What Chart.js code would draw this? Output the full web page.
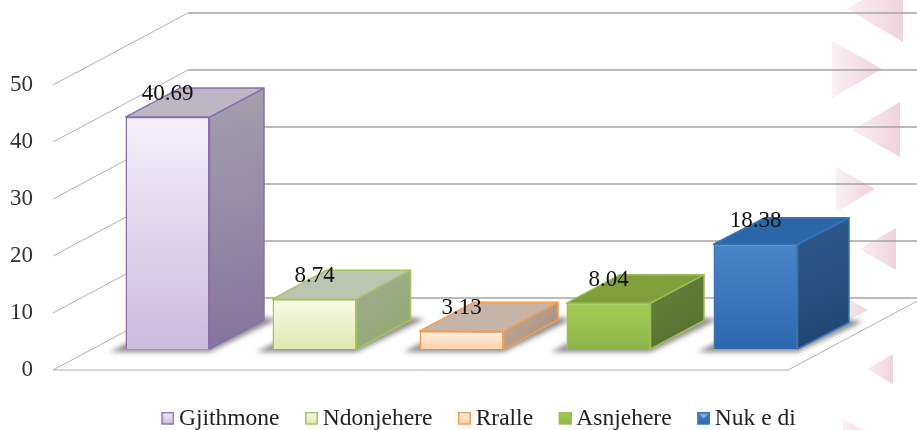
<!DOCTYPE html>
<html>
<head>
<meta charset="utf-8">
<script src="https://cdn.jsdelivr.net/npm/chart.js@4"></script>
<style>
  body { margin: 0; background: #fff; }
  canvas { display: block; }
</style>
</head>
<body>
<canvas id="plot" width="917" height="430"></canvas>
<script>
const categories = ['Gjithmone', 'Ndonjehere', 'Rralle', 'Asnjehere', 'Nuk e di'];
const values = [40.69, 8.74, 3.13, 8.04, 18.38];
const valueLabels = ['40.69', '8.74', '3.13', '8.04', '18.38'];
const tickLabels = [0, 10, 20, 30, 40, 50];

// colours per bar: front top/bottom, side top/bottom, top face, edge
const frontTop = ['#f4eff9', '#f7fbea', '#fff2e6', '#a6ce53', '#4a85c6'];
const frontBottom = ['#cbbbdc', '#deE8ae', '#fdcfa6', '#8cb34a', '#2d68ad'];
const sideTop = ['#a5a0ad', '#a3ab95', '#bdaa9b', '#65833b', '#2e5c8f'];
const sideBottom = ['#84739a', '#8fa96a', '#a88e7c', '#546c2e', '#1e446f'];
const topFace = ['#bdb7c3', '#bcc5b2', '#c4b5a8', '#809e3c', '#2a67a8'];
const edge = ['#8a6fb0', '#a3c45c', '#f79c4f', '#9dbd58', '#3a74b5'];

// wall and bar depth in pixels, the bars get shallower to the right
const wallInset = 41;
const backX = 135, backY = -72;
const barDepthX = [54.5, 54, 54.5, 53.5, 51.5];
const barDepthY = [-29, -29, -29, -28.5, -26.5];
const floorRight = 788;

// slide background triangles
const triangles = [
  [[847, 9], [903, -24], [903, 42]],
  [[832, 41], [882, 69], [832, 98]],
  [[852, 130], [900, 102], [900, 157]],
  [[836, 167], [875, 189], [836, 212]],
  [[859, 249], [896, 228], [896, 270]],
  [[838, 293], [868, 310], [838, 326]],
  [[867, 369], [893, 354], [893, 384]],
  [[843, 419], [875, 437], [843, 455]]
];

function poly(ctx, pts) {
  ctx.beginPath();
  pts.forEach((p, i) => i ? ctx.lineTo(p[0], p[1]) : ctx.moveTo(p[0], p[1]));
  ctx.closePath();
}

function makeSwatch(i) {
  const c = document.createElement('canvas');
  c.width = 15; c.height = 15;
  const g = c.getContext('2d');
  const grad = g.createLinearGradient(0, 0, 0, 13);
  grad.addColorStop(0, frontTop[i]);
  grad.addColorStop(1, frontBottom[i]);
  g.fillStyle = grad;
  g.fillRect(2, 0, 13, 13);
  if (i === 4) {
    g.fillStyle = '#86aed9';
    poly(g, [[4, 2], [13, 2], [8.5, 6.5]]);
    g.fill();
  }
  g.strokeStyle = edge[i];
  g.lineWidth = 1.5;
  g.strokeRect(2.75, 0.75, 11.5, 11.5);
  return c;
}

const scene3d = {
  id: 'scene3d',
  beforeLayout(chart) {
    const lg = chart.legend;
    if (!lg._fitWrapped) {
      const fit = lg.fit;
      lg.fit = function () { fit.call(this); this.height = 60; };
      lg._fitWrapped = true;
    }
  },
  afterLayout(chart) {
    const lg = chart.legend;
    lg.left += 66.5; lg.right += 66.5;
    lg.top += 7; lg.bottom += 7;
  },
  beforeDraw(chart) {
    const ctx = chart.ctx;
    ctx.save();
    triangles.forEach(t => {
      const xs = t.map(p => p[0]);
      const grad = ctx.createLinearGradient(Math.min(...xs), 0, Math.max(...xs), 0);
      grad.addColorStop(0, '#faf0f3');
      grad.addColorStop(1, '#efd3dc');
      ctx.fillStyle = grad;
      poly(ctx, t);
      ctx.fill();
    });
    ctx.restore();
  },
  beforeDatasetsDraw(chart) {
    const ctx = chart.ctx;
    const yAxis = chart.scales.y;
    const wallX = chart.chartArea.left - wallInset;
    ctx.save();
    tickLabels.forEach(v => {
      const py = yAxis.getPixelForValue(v);
      ctx.strokeStyle = '#b0b0b0';
      ctx.lineWidth = 1;
      ctx.beginPath();
      ctx.moveTo(wallX, py);
      ctx.lineTo(wallX + backX, py + backY);
      ctx.stroke();
      ctx.strokeStyle = '#a4a4a4';
      ctx.lineWidth = 1.6;
      ctx.beginPath();
      ctx.moveTo(wallX + backX, py + backY);
      ctx.lineTo(chart.width, py + backY);
      ctx.stroke();
    });
    // floor edge
    const y0 = yAxis.getPixelForValue(0);
    ctx.strokeStyle = '#b0b0b0';
    ctx.lineWidth = 1;
    ctx.beginPath();
    ctx.moveTo(wallX, y0);
    ctx.lineTo(floorRight, y0);
    ctx.lineTo(floorRight + backX, y0 + backY);
    ctx.stroke();

    const bars = chart.getDatasetMeta(0).data;
    // floor shadows
    bars.forEach((b, i) => {
      const l = b.x - b.width / 2, r = b.x + b.width / 2;
      const dx = barDepthX[i], dy = barDepthY[i];
      ctx.save();
      ctx.filter = 'blur(2.5px)';
      ctx.fillStyle = '#8c8c8c';
      poly(ctx, [[l - 16, b.base + 3], [r, b.base + 3], [r + dx + 14, b.base + dy - 1], [r + dx - 10, b.base + dy - 4], [l + 10, b.base - 10]]);
      ctx.fill();
      ctx.restore();
    });
    // side and top faces
    bars.forEach((b, i) => {
      const l = b.x - b.width / 2, r = b.x + b.width / 2;
      const dx = barDepthX[i], dy = barDepthY[i];
      const side = [[r, b.y], [r + dx, b.y + dy], [r + dx, b.base + dy], [r, b.base]];
      const grad = ctx.createLinearGradient(r, b.y + dy, r + dx, b.base);
      grad.addColorStop(0, sideTop[i]);
      grad.addColorStop(1, sideBottom[i]);
      ctx.fillStyle = grad;
      ctx.strokeStyle = edge[i];
      ctx.lineWidth = 1.5;
      ctx.lineJoin = 'round';
      poly(ctx, side);
      ctx.fill();
      ctx.stroke();
      ctx.fillStyle = topFace[i];
      poly(ctx, [[l, b.y], [l + dx, b.y + dy], [r + dx, b.y + dy], [r, b.y]]);
      ctx.fill();
      ctx.stroke();
    });
    ctx.restore();
  },
  afterDatasetsDraw(chart) {
    const ctx = chart.ctx;
    ctx.save();
    ctx.font = '23px "Liberation Serif"';
    ctx.fillStyle = '#111';
    ctx.textAlign = 'center';
    ctx.textBaseline = 'middle';
    chart.getDatasetMeta(0).data.forEach((b, i) => {
      ctx.fillText(valueLabels[i], b.x, b.y - 23);
    });
    ctx.restore();
  }
};

const ctx = document.getElementById('plot').getContext('2d');

const chart = new Chart(ctx, {
  type: 'bar',
  data: {
    labels: categories,
    datasets: [{
      label: 'Series',
      data: values,
      yAxisID: 'y1',
      clip: false,
      barPercentage: 0.5714,
      categoryPercentage: 1,
      borderWidth: 1.5,
      borderColor: edge,
      backgroundColor(c) {
        const area = c.chart.chartArea;
        if (!area || c.dataIndex === undefined) return frontBottom[0];
        const s = c.chart.scales.y1;
        const grad = c.chart.ctx.createLinearGradient(0, s.getPixelForValue(values[c.dataIndex]), 0, s.getPixelForValue(0));
        grad.addColorStop(0, frontTop[c.dataIndex]);
        grad.addColorStop(1, frontBottom[c.dataIndex]);
        return grad;
      }
    }]
  },
  options: {
    responsive: false,
    animation: false,
    layout: { padding: { top: 85, right: 88, left: 0, bottom: 0 } },
    plugins: {
      tooltip: { enabled: false },
      legend: {
        position: 'bottom',
        labels: {
          usePointStyle: true,
          pointStyleWidth: 1,
          padding: 30.5,
          color: '#222',
          font: { family: '"Liberation Serif"', size: 23.5, lineHeight: 1 },
          generateLabels() {
            return categories.map((name, i) => ({
              text: name,
              pointStyle: makeSwatch(i),
              fontColor: '#222',
              lineWidth: 0,
              hidden: false,
              index: i
            }));
          }
        }
      }
    },
    scales: {
      x: { display: false },
      y: {
        position: 'left',
        min: 0,
        max: 50,
        afterFit(scale) {
          scale.width = 94;
          // tick padding would otherwise eat into the plot height
          scale.paddingTop = 0;
          scale.paddingBottom = 0;
        },
        border: { display: false },
        grid: { display: false, drawTicks: false },
        ticks: {
          stepSize: 10,
          padding: 61,
          color: '#333',
          font: { family: '"Liberation Serif"', size: 23 }
        }
      },
      // bars stand in the middle of the floor, so 0 sits higher than the axis 0
      y1: { display: false, min: -3.684, max: 46.316 }
    }
  },
  plugins: [scene3d]
});
</script>
</body>
</html>
